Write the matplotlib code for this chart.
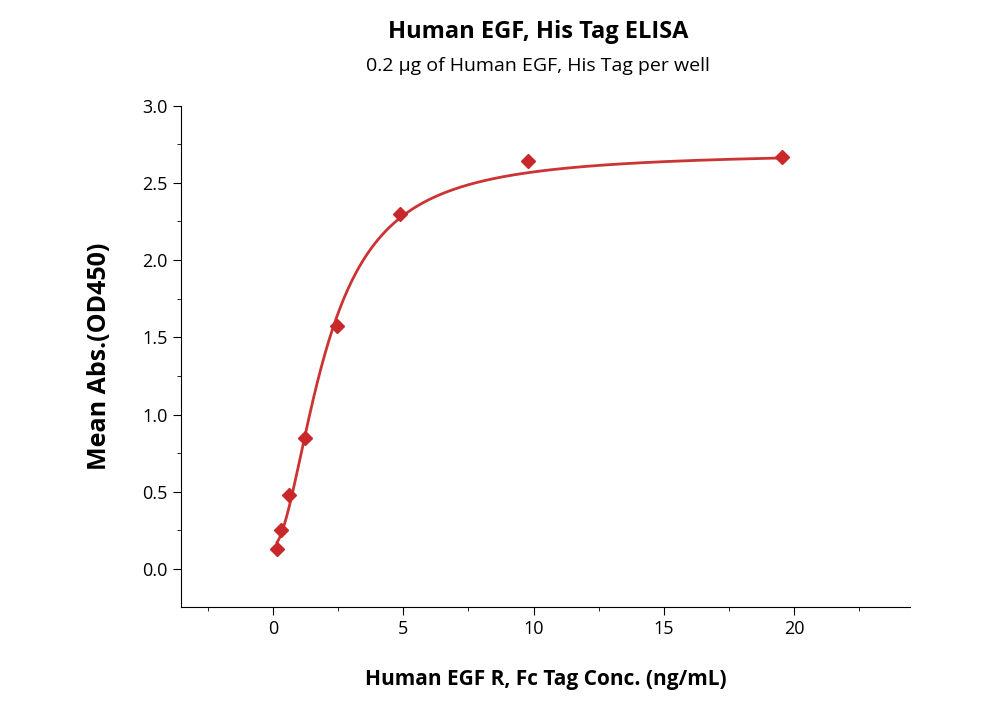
import numpy as np
import matplotlib
matplotlib.use("Agg")
import matplotlib.pyplot as plt
from matplotlib.ticker import MultipleLocator

plt.rcParams["font.family"] = "Open Sans"

conc = [0.153, 0.305, 0.61, 1.22, 2.44, 4.88, 9.77, 19.53]
od = [0.13, 0.25, 0.48, 0.85, 1.57, 2.30, 2.64, 2.67]
x_ticks = [0, 5, 10, 15, 20]
y_ticks = [0.0, 0.5, 1.0, 1.5, 2.0, 2.5, 3.0]

x = np.array(conc); y = np.array(od)
def f(t, a, d, c, b):
    return d + (a - d) / (1 + (t / c) ** b)
best = None
for a in np.linspace(-0.3, 0.15, 19):
    for d in np.linspace(2.66, 2.70, 5):
        for c in np.linspace(1.5, 3.5, 41):
            for b in np.linspace(0.8, 3.0, 45):
                e = np.sum((f(x, a, d, c, b) - y) ** 2)
                if best is None or e < best[0]:
                    best = (e, a, d, c, b)
_, a, d, c, b = best

fig = plt.figure(figsize=(10, 7.14), dpi=100)
ax = fig.add_axes([0.181, 0.150, 0.729, 0.702])
xs = np.linspace(min(conc), max(conc), 400)
ax.plot(xs, f(xs, a, d, c, b), color="#cc3333", lw=2)
ax.plot(conc, od, "D", color="#c8282a", ms=7, ls="none")
ax.set_xlim(-3.53, 24.45)
ax.set_ylim(-0.246, 3.0)
ax.set_xticks(x_ticks); ax.set_yticks(y_ticks)
ax.set_yticklabels([f"{v:.1f}" for v in y_ticks])
ax.xaxis.set_minor_locator(MultipleLocator(2.5))
ax.yaxis.set_minor_locator(MultipleLocator(0.25))
for s in ["top", "right"]:
    ax.spines[s].set_visible(False)
ax.tick_params(which="major", direction="out", length=6, labelsize=13)
ax.tick_params(which="minor", direction="out", length=3)
ax.set_xlabel("Human EGF R, Fc Tag Conc. (ng/mL)", fontsize=15, fontweight="bold", labelpad=22)
ax.set_ylabel("Mean Abs.(OD450)", fontsize=18, fontweight="bold", labelpad=22)
fig.text(0.538, 0.955, "Human EGF, His Tag ELISA", ha="center", va="center", fontsize=17, fontweight="bold")
fig.text(0.538, 0.908, "0.2 µg of Human EGF, His Tag per well", ha="center", va="center", fontsize=14)
fig.savefig("out.png")
